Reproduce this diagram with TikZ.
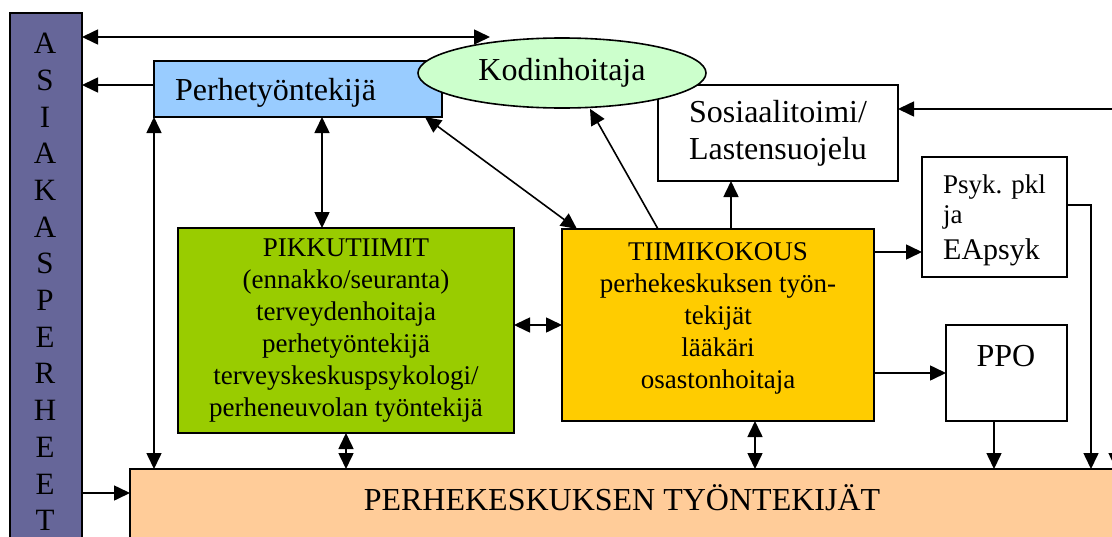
\documentclass[tikz,border=0pt]{standalone}
\usepackage{fontspec}
\setmainfont{Liberation Serif}
\usetikzlibrary{arrows.meta,shapes.geometric}
\definecolor{famcol}{HTML}{666699}
\definecolor{perhecol}{HTML}{99CCFF}
\definecolor{kodcol}{HTML}{CCFFCC}
\definecolor{greencol}{HTML}{99CC00}
\definecolor{orangecol}{HTML}{FFCC00}
\definecolor{botcol}{HTML}{FFCC99}
\begin{document}
\begin{tikzpicture}[x=1pt,y=-1pt,
  box/.style={draw=black, line width=1.6pt, rectangle, inner sep=0pt, outer sep=0pt},
  tip/.tip={Triangle[length=16pt,width=15pt]},
  arr/.style={-tip, line width=1.6pt},
  darr/.style={tip-tip, line width=1.6pt},
  big/.style={font=\fontsize{32}{37}\selectfont},
  small/.style={font=\fontsize{27}{32}\selectfont}]
\useasboundingbox (0,0) rectangle (1112,536);
\clip (0,0) rectangle (1112,536);

% client families column
\node[box, fill=famcol, minimum width=72pt, minimum height=560pt, anchor=north west] (col) at (10,13) {};
\node[font=\fontsize{31}{36.7}\selectfont, align=center, anchor=north, inner sep=0pt] (colT) at (45,33)
  {A\\S\\I\\A\\K\\A\\S\\P\\E\\R\\H\\E\\E\\T};

% top row
\node[box, fill=perhecol, minimum width=288pt, minimum height=56pt, anchor=north west] (perhe) at (154,61) {};
\node[big, anchor=base west, inner sep=0pt] (perheT) at (175,100) {Perhetyöntekijä};
\node[box, fill=white, minimum width=240pt, minimum height=96pt, anchor=north west, align=center, big] (sos) at (658,85) {Sosiaalitoimi/\\Lastensuojelu};
\node[draw=black, line width=1.6pt, ellipse, fill=kodcol, minimum width=288pt, minimum height=70pt, inner sep=0pt, big] (kodin) at (562,73) {Kodinhoitaja};

% right side boxes
\node[box, fill=white, minimum width=145pt, minimum height=120pt, anchor=north west] (psyk) at (922,157) {};
\node[font=\fontsize{27}{31}\selectfont, anchor=base west, inner sep=0pt] (psykA) at (943,193) {Psyk. pkl};
\node[font=\fontsize{27}{31}\selectfont, anchor=base west, inner sep=0pt] (psykB) at (943,223) {ja};
\node[font=\fontsize{30}{34}\selectfont, anchor=base west, inner sep=0pt] (psykC) at (943,259) {EApsyk};
\node[box, fill=white, minimum width=121pt, minimum height=96pt, anchor=north west] (ppo) at (946,325) {};
\node[big, anchor=base, inner sep=0pt] (ppoT) at (1006,366) {PPO};

% team boxes
\node[box, fill=greencol, minimum width=336pt, minimum height=205pt, anchor=north west] (green) at (178,228) {};
\node[small, align=center, inner sep=0pt] (greenT) at (346,331)
  {PIKKUTIIMIT\\(ennakko/seuranta)\\terveydenhoitaja\\perhetyöntekijä\\terveyskeskuspsykologi/\\perheneuvolan työntekijä};
\node[box, fill=orangecol, minimum width=312pt, minimum height=192pt, anchor=north west] (orange) at (562,229) {};
\node[small, align=center, inner sep=0pt] (orangeT) at (718,318)
  {TIIMIKOKOUS\\perhekeskuksen työn-\\tekijät\\lääkäri\\osastonhoitaja};

% family centre staff
\node[box, fill=botcol, minimum width=1000pt, minimum height=100pt, anchor=north west] (bot) at (130,469) {};
\node[big, anchor=base, inner sep=0pt] (botT) at (622,510) {PERHEKESKUKSEN TYÖNTEKIJÄT};

% connector ends outside the frame
\coordinate (topend) at (490,37);
\coordinate (offr) at (1116,109);

% connectors
\draw[darr] (col.east |- topend) -- (topend);
\draw[arr] (perhe.west |- 0,85) -- (col.east |- 0,85);
\draw[arr] (col.east |- 0,493) -- (bot.west |- 0,493);
\draw[darr] (perhe.south west) -- (bot.north -| perhe.south west);
\draw[darr] (perhe.south -| 322,0) -- (green.north -| 322,0);
\draw[darr] (perhe.south -| 425,0) -- (orange.north -| 577,0);
\draw[arr] (orange.north -| 658,0) -- (kodin.south -| 590,0);
\draw[arr] (orange.north -| 731,0) -- (sos.south -| 731,0);
\draw[darr] (green.east |- 0,325) -- (orange.west |- 0,325);
\draw[arr] (orange.east |- 0,252) -- (psyk.west |- 0,252);
\draw[arr] (orange.east |- ppo.west) -- (ppo.west);
\draw[darr] (green.south) -- (bot.north -| green.south);
\draw[darr] (orange.south -| 755,0) -- (bot.north -| 755,0);
\draw[arr] (ppo.south -| 994,0) -- (bot.north -| 994,0);
\draw[arr] (psyk.east |- 0,205) -| (bot.north -| 1091,0);
\draw[arr] (offr) -- (sos.east |- offr);
\draw[arr] (offr) -- (bot.north -| offr);
\end{tikzpicture}
\end{document}
